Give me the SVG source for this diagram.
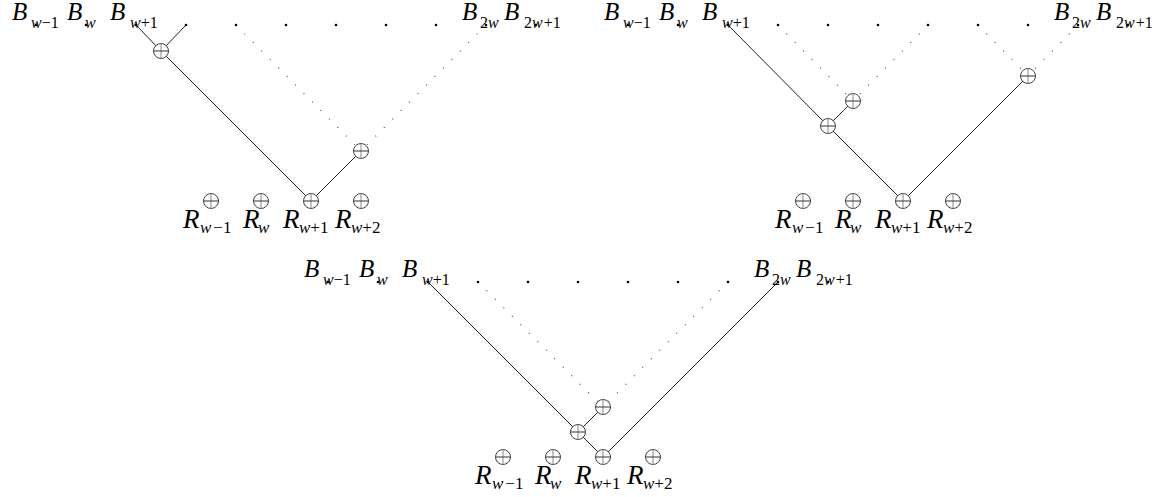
<svg xmlns="http://www.w3.org/2000/svg" width="1169" height="497" viewBox="0 0 1169 497">
<style>
.b{font-family:"Liberation Serif",serif;font-style:italic;font-size:25px;fill:#000}
.r{font-family:"Liberation Serif",serif;font-style:italic;font-size:27px;fill:#000}
.s{font-size:16px}
.sr{font-size:17px}
.u{font-style:normal}
.solid{stroke:#222;stroke-width:1;fill:none}
.dot{stroke:#444;stroke-width:1.1;stroke-dasharray:1 11;fill:none}
.pt{fill:#000}
.oc{fill:#fff;stroke:#444;stroke-width:1}
.ov{stroke:#888;stroke-width:1}
.oh{stroke:#333;stroke-width:1}
</style>
<defs>
<g id="oplus">
<circle class="oc" cx="0" cy="0" r="7.5"/>
<line class="ov" x1="0" y1="-7.5" x2="0" y2="7.5"/>
<line class="oh" x1="-7.5" y1="0" x2="7.5" y2="0"/>
</g>
</defs>

<g id="connectors">
<!-- panel 1 -->
<line class="solid" x1="136" y1="25" x2="161" y2="51"/>
<line class="solid" x1="186" y1="25" x2="161" y2="51"/>
<line class="solid" x1="161" y1="51" x2="311" y2="201"/>
<line class="solid" x1="361" y1="151" x2="311" y2="201"/>
<line class="dot" x1="236" y1="25" x2="361" y2="151"/>
<line class="dot" x1="486" y1="25" x2="361" y2="151"/>
<!-- panel 2 -->
<line class="solid" x1="728" y1="25" x2="828" y2="126"/>
<line class="solid" x1="828" y1="126" x2="853" y2="101"/>
<line class="solid" x1="828" y1="126" x2="903" y2="201"/>
<line class="solid" x1="903" y1="201" x2="1028" y2="76"/>
<line class="dot" x1="778" y1="25" x2="853" y2="101"/>
<line class="dot" x1="928" y1="25" x2="853" y2="101"/>
<line class="dot" x1="978" y1="25" x2="1028" y2="76"/>
<line class="dot" x1="1078" y1="25" x2="1028" y2="76"/>
<!-- panel 3 -->
<line class="solid" x1="428" y1="282" x2="578" y2="432"/>
<line class="solid" x1="578" y1="432" x2="603" y2="407"/>
<line class="solid" x1="578" y1="432" x2="603" y2="457"/>
<line class="solid" x1="603" y1="457" x2="778" y2="282"/>
<line class="dot" x1="478" y1="282" x2="603" y2="407"/>
<line class="dot" x1="728" y1="282" x2="603" y2="407"/>
</g>

<!-- ===== Panel 1 ===== -->
<g id="p1-top">
<circle class="pt" cx="36" cy="25" r="1.3"/>
<circle class="pt" cx="86" cy="25" r="1.3"/>
<circle class="pt" cx="136" cy="25" r="1.3"/>
<circle class="pt" cx="186" cy="25" r="1.3"/>
<circle class="pt" cx="236" cy="25" r="1.3"/>
<circle class="pt" cx="286" cy="25" r="1.3"/>
<circle class="pt" cx="336" cy="25" r="1.3"/>
<circle class="pt" cx="386" cy="25" r="1.3"/>
<circle class="pt" cx="436" cy="25" r="1.3"/>
<circle class="pt" cx="486" cy="25" r="1.3"/>
<circle class="pt" cx="536" cy="25" r="1.3"/>
</g>
<g id="p1-Bw-1"><text class="b" y="20"><tspan x="12">B</tspan><tspan class="s" x="31" y="28">w</tspan><tspan class="s u">−1</tspan></text></g>
<g id="p1-Bw"><text class="b" y="20"><tspan x="67">B</tspan><tspan class="s" x="85" y="28">w</tspan></text></g>
<g id="p1-Bw+1"><text class="b" y="20"><tspan x="110">B</tspan><tspan class="s" x="130" y="28">w</tspan><tspan class="s u">+1</tspan></text></g>
<g id="p1-B2w"><text class="b" y="20"><tspan x="462">B</tspan><tspan class="s u" x="480" y="28">2</tspan><tspan class="s">w</tspan></text></g>
<g id="p1-B2w+1"><text class="b" y="20"><tspan x="504">B</tspan><tspan class="s u" x="524" y="28">2</tspan><tspan class="s">w</tspan><tspan class="s u" dx="1">+1</tspan></text></g>
<g id="p1-n1"><use href="#oplus" x="161" y="51"/></g>
<g id="p1-n2"><use href="#oplus" x="361" y="151"/></g>
<g id="p1-Rw-1"><use href="#oplus" x="211" y="201"/><text class="r" y="228"><tspan x="183">R</tspan><tspan class="sr" x="200" y="233">w</tspan><tspan class="sr u" dx="2">−1</tspan></text></g>
<g id="p1-Rw"><use href="#oplus" x="261" y="201"/><text class="r" y="228"><tspan x="243">R</tspan><tspan class="sr" x="258" y="233">w</tspan></text></g>
<g id="p1-Rw+1"><use href="#oplus" x="311" y="201"/><text class="r" y="228"><tspan x="283">R</tspan><tspan class="sr" x="299" y="233">w</tspan><tspan class="sr u">+1</tspan></text></g>
<g id="p1-Rw+2"><use href="#oplus" x="361" y="201"/><text class="r" y="228"><tspan x="335">R</tspan><tspan class="sr" x="351" y="233">w</tspan><tspan class="sr u">+2</tspan></text></g>

<!-- ===== Panel 2 ===== -->
<g id="p2-top">
<circle class="pt" cx="628" cy="25" r="1.3"/>
<circle class="pt" cx="678" cy="25" r="1.3"/>
<circle class="pt" cx="728" cy="25" r="1.3"/>
<circle class="pt" cx="778" cy="25" r="1.3"/>
<circle class="pt" cx="828" cy="25" r="1.3"/>
<circle class="pt" cx="878" cy="25" r="1.3"/>
<circle class="pt" cx="928" cy="25" r="1.3"/>
<circle class="pt" cx="978" cy="25" r="1.3"/>
<circle class="pt" cx="1028" cy="25" r="1.3"/>
<circle class="pt" cx="1078" cy="25" r="1.3"/>
<circle class="pt" cx="1128" cy="25" r="1.3"/>
</g>
<g id="p2-Bw-1"><text class="b" y="20"><tspan x="604">B</tspan><tspan class="s" x="623" y="28">w</tspan><tspan class="s u">−1</tspan></text></g>
<g id="p2-Bw"><text class="b" y="20"><tspan x="659">B</tspan><tspan class="s" x="677" y="28">w</tspan></text></g>
<g id="p2-Bw+1"><text class="b" y="20"><tspan x="702">B</tspan><tspan class="s" x="722" y="28">w</tspan><tspan class="s u">+1</tspan></text></g>
<g id="p2-B2w"><text class="b" y="20"><tspan x="1054">B</tspan><tspan class="s u" x="1072" y="28">2</tspan><tspan class="s">w</tspan></text></g>
<g id="p2-B2w+1"><text class="b" y="20"><tspan x="1096">B</tspan><tspan class="s u" x="1116" y="28">2</tspan><tspan class="s">w</tspan><tspan class="s u" dx="1">+1</tspan></text></g>
<g id="p2-n1"><use href="#oplus" x="828" y="126"/></g>
<g id="p2-n2"><use href="#oplus" x="853" y="101"/></g>
<g id="p2-n3"><use href="#oplus" x="1028" y="76"/></g>
<g id="p2-Rw-1"><use href="#oplus" x="803" y="201"/><text class="r" y="228"><tspan x="775">R</tspan><tspan class="sr" x="792" y="233">w</tspan><tspan class="sr u" dx="2">−1</tspan></text></g>
<g id="p2-Rw"><use href="#oplus" x="853" y="201"/><text class="r" y="228"><tspan x="835">R</tspan><tspan class="sr" x="850" y="233">w</tspan></text></g>
<g id="p2-Rw+1"><use href="#oplus" x="903" y="201"/><text class="r" y="228"><tspan x="875">R</tspan><tspan class="sr" x="891" y="233">w</tspan><tspan class="sr u">+1</tspan></text></g>
<g id="p2-Rw+2"><use href="#oplus" x="953" y="201"/><text class="r" y="228"><tspan x="927">R</tspan><tspan class="sr" x="943" y="233">w</tspan><tspan class="sr u">+2</tspan></text></g>

<!-- ===== Panel 3 ===== -->
<g id="p3-top">
<circle class="pt" cx="328" cy="282" r="1.3"/>
<circle class="pt" cx="378" cy="282" r="1.3"/>
<circle class="pt" cx="428" cy="282" r="1.3"/>
<circle class="pt" cx="478" cy="282" r="1.3"/>
<circle class="pt" cx="528" cy="282" r="1.3"/>
<circle class="pt" cx="578" cy="282" r="1.3"/>
<circle class="pt" cx="628" cy="282" r="1.3"/>
<circle class="pt" cx="678" cy="282" r="1.3"/>
<circle class="pt" cx="728" cy="282" r="1.3"/>
<circle class="pt" cx="778" cy="282" r="1.3"/>
<circle class="pt" cx="828" cy="282" r="1.3"/>
</g>
<g id="p3-Bw-1"><text class="b" y="277"><tspan x="304">B</tspan><tspan class="s" x="323" y="285">w</tspan><tspan class="s u">−1</tspan></text></g>
<g id="p3-Bw"><text class="b" y="277"><tspan x="359">B</tspan><tspan class="s" x="377" y="285">w</tspan></text></g>
<g id="p3-Bw+1"><text class="b" y="277"><tspan x="402">B</tspan><tspan class="s" x="422" y="285">w</tspan><tspan class="s u">+1</tspan></text></g>
<g id="p3-B2w"><text class="b" y="277"><tspan x="754">B</tspan><tspan class="s u" x="772" y="285">2</tspan><tspan class="s">w</tspan></text></g>
<g id="p3-B2w+1"><text class="b" y="277"><tspan x="796">B</tspan><tspan class="s u" x="816" y="285">2</tspan><tspan class="s">w</tspan><tspan class="s u" dx="1">+1</tspan></text></g>
<g id="p3-n1"><use href="#oplus" x="578" y="432"/></g>
<g id="p3-n2"><use href="#oplus" x="603" y="407"/></g>
<g id="p3-Rw-1"><use href="#oplus" x="503" y="457"/><text class="r" y="484"><tspan x="475">R</tspan><tspan class="sr" x="492" y="489">w</tspan><tspan class="sr u" dx="2">−1</tspan></text></g>
<g id="p3-Rw"><use href="#oplus" x="553" y="457"/><text class="r" y="484"><tspan x="535">R</tspan><tspan class="sr" x="550" y="489">w</tspan></text></g>
<g id="p3-Rw+1"><use href="#oplus" x="603" y="457"/><text class="r" y="484"><tspan x="575">R</tspan><tspan class="sr" x="591" y="489">w</tspan><tspan class="sr u">+1</tspan></text></g>
<g id="p3-Rw+2"><use href="#oplus" x="653" y="457"/><text class="r" y="484"><tspan x="627">R</tspan><tspan class="sr" x="643" y="489">w</tspan><tspan class="sr u">+2</tspan></text></g>
</svg>
